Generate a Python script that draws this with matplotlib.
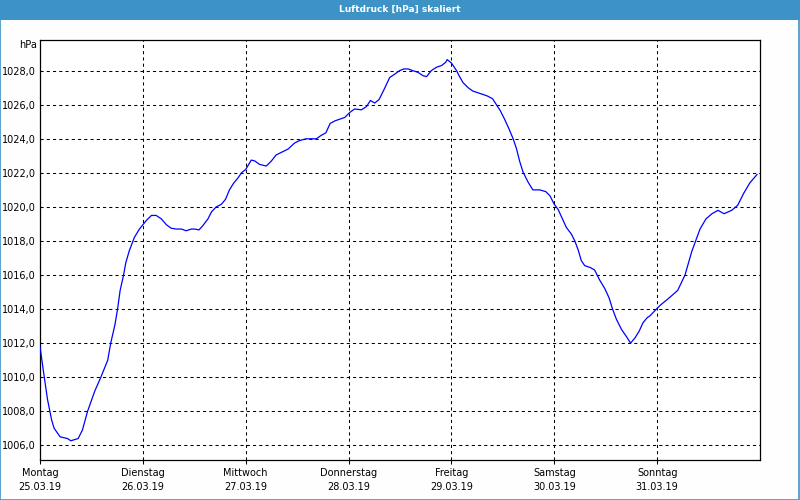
import matplotlib
matplotlib.use("Agg")
import matplotlib.pyplot as plt
from matplotlib.patches import Rectangle
from matplotlib.ticker import FuncFormatter, MultipleLocator

# Stunden seit Montag 00:00 und Luftdruck in hPa
stunden = [0, 1.0, 1.75, 2.7, 3.3, 4.7, 6.4, 7.2, 8.9, 9.9, 11.1, 12.8, 14.2, 15.8, 16.5,
           17.5, 18.1, 18.7, 19.5, 20.0, 20.8, 22.0, 23.2, 24.8, 26.0, 27.1, 28.3, 29.5,
           30.6, 31.8, 33.0, 34.1, 35.3, 36.1, 37.1, 38.0, 39.2, 40.0, 41.1, 42.3, 43.3,
           44.2, 45.2, 46.2, 47.0, 48.0, 49.3, 50.1, 51.2, 52.8, 54.0, 55.1, 56.3, 57.9,
           59.4, 60.6, 62.1, 64.5, 65.6, 66.7, 67.7, 68.8, 69.9, 71.1, 72.3, 73.4, 75.0,
           76.2, 77.1, 78.1, 79.1, 80.2, 81.6, 82.8, 83.9, 84.9, 85.9, 87.0, 88.2, 89.4,
           90.2, 91.3, 92.5, 93.7, 94.7, 95.0, 96.0, 97.2, 97.9, 98.7, 99.9, 101.0, 102.2,
           103.4, 104.5, 105.6, 106.5, 107.4, 108.4, 109.4, 110.4, 111.2, 111.9, 112.7,
           113.9, 115.0, 116.6, 118.0, 119.0, 120.0, 120.9, 121.9, 122.8, 124.0, 124.8,
           125.6, 126.3, 127.1, 128.3, 129.4, 130.6, 131.8, 132.8, 133.6, 134.5, 135.7,
           136.8, 137.8, 138.8, 139.8, 140.7, 141.7, 142.3, 144.6, 147.0, 148.8, 150.5,
           152.1, 154.0, 155.4, 156.8, 158.2, 159.6, 161.4, 162.8, 164.2, 165.6, 167.3]
druck = [1011.8, 1010.0, 1008.7, 1007.5, 1007.0, 1006.5, 1006.4, 1006.27, 1006.4, 1006.9,
         1008.0, 1009.2, 1010.0, 1011.0, 1012.0, 1013.1, 1014.0, 1015.1, 1016.0, 1016.7,
         1017.4, 1018.2, 1018.7, 1019.2, 1019.5, 1019.5, 1019.3, 1018.95, 1018.75, 1018.7,
         1018.7, 1018.6, 1018.7, 1018.7, 1018.65, 1018.9, 1019.3, 1019.7, 1020.0, 1020.15,
         1020.45, 1021.0, 1021.4, 1021.7, 1022.0, 1022.2, 1022.75, 1022.7, 1022.5, 1022.4,
         1022.7, 1023.05, 1023.2, 1023.4, 1023.75, 1023.9, 1024.0, 1024.0, 1024.2, 1024.35,
         1024.9, 1025.05, 1025.15, 1025.25, 1025.55, 1025.75, 1025.7, 1025.9, 1026.25,
         1026.1, 1026.3, 1026.85, 1027.6, 1027.8, 1028.0, 1028.1, 1028.1, 1028.0, 1027.9,
         1027.7, 1027.65, 1028.0, 1028.2, 1028.3, 1028.5, 1028.65, 1028.45, 1028.0, 1027.65,
         1027.3, 1027.0, 1026.8, 1026.7, 1026.6, 1026.5, 1026.35, 1026.0, 1025.65, 1025.15,
         1024.6, 1024.0, 1023.4, 1022.7, 1022.05, 1021.45, 1021.0, 1021.0, 1020.9, 1020.65,
         1020.15, 1019.85, 1019.3, 1018.8, 1018.4, 1018.0, 1017.45, 1016.85, 1016.55,
         1016.45, 1016.3, 1015.7, 1015.2, 1014.65, 1014.0, 1013.4, 1012.8, 1012.4, 1012.0,
         1012.3, 1012.7, 1013.2, 1013.5, 1013.6, 1014.2, 1014.7, 1015.1, 1016.0, 1017.4,
         1018.7, 1019.3, 1019.6, 1019.8, 1019.6, 1019.8, 1020.1, 1020.8, 1021.4, 1021.9]

tage = ["Montag", "Dienstag", "Mittwoch", "Donnerstag", "Freitag", "Samstag", "Sonntag"]
daten = ["25.03.19", "26.03.19", "27.03.19", "28.03.19", "29.03.19", "30.03.19", "31.03.19"]

titel = "Luftdruck [hPa] skaliert"
blau = "#3d93c5"

fig = plt.figure(figsize=(8, 5), dpi=100, facecolor="#fdfefd")

# Titelleiste und Rahmen
fig.patches.append(Rectangle((0, 0.96), 1, 0.04, transform=fig.transFigure,
                             facecolor=blau, edgecolor="none", zorder=0))
fig.patches.append(Rectangle((0.0006, 0.001), 0.9985, 0.998, transform=fig.transFigure,
                             facecolor="none", edgecolor=blau, linewidth=1.2, zorder=0))
fig.text(0.5, 0.981, titel, color="white", fontsize=6.5, fontweight="bold",
         ha="center", va="center")

ax = fig.add_axes([0.05, 0.08, 0.90, 0.84])
ax.set_facecolor("white")
ax.plot(stunden, druck, color="#0000ff", linewidth=0.9, zorder=3)

ax.set_xlim(0, 168)
ax.set_ylim(1005.14, 1029.8)

ax.set_xticks([24 * i for i in range(7)])
ax.set_xticklabels([f"{t}\n{d}" for t, d in zip(tage, daten)], fontsize=7, linespacing=1.45)
ax.yaxis.set_major_locator(MultipleLocator(2))
ax.yaxis.set_major_formatter(FuncFormatter(lambda v, p: f"{v:.1f}".replace(".", ",")))
ax.tick_params(axis="y", length=0, labelsize=7, pad=3)
ax.tick_params(axis="x", length=3, width=0.75, direction="out", pad=3)

ax.grid(True, color="black", linestyle=(0, (3, 3)), linewidth=0.75)
for s in ax.spines.values():
    s.set_linewidth(0.9)
    s.set_color("black")

fig.text(0.046, 0.911, "hPa", fontsize=7, ha="right", va="center")

fig.savefig("out.png", dpi=100, facecolor=fig.get_facecolor())
